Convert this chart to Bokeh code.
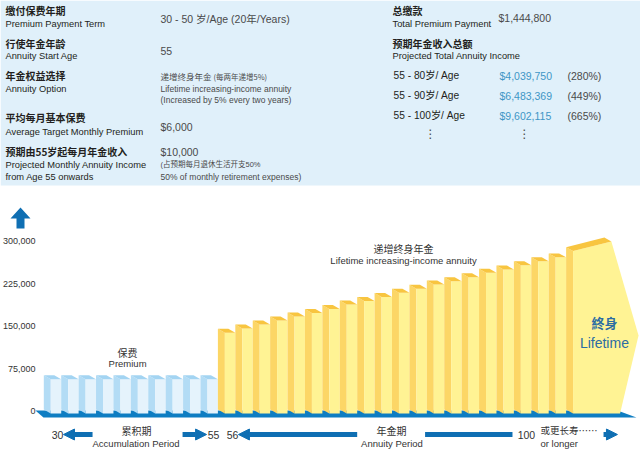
from bokeh.plotting import figure
from bokeh.models import Range1d, FixedTicker, NumeralTickFormatter, Arrow, NormalHead
from bokeh.core.properties import value
from bokeh.embed import file_html
from bokeh.resources import INLINE

# ---------------- data ----------------
premium_values = [57000, 57000, 57000, 57000, 57000, 57000, 57000, 57000, 57000, 57000]
annuity_values = [139000, 146500, 153500, 160500, 167500, 174000, 181000, 189000, 195000, 202000,
                  209500, 216500, 224000, 230000, 237000, 245000, 250500, 258000, 265000, 272000]
lifetime_values = [283000, 300000]
y_ticks = [0, 75000, 150000, 225000, 300000]

info_left_labels = ["缴付保费年期", "Premium Payment Term", "行使年金年龄", "Annuity Start Age",
                    "年金权益选择", "Annuity Option", "平均每月基本保费", "Average Target Monthly Premium",
                    "预期由55岁起每月年金收入", "Projected Monthly Annuity Income", "from Age 55 onwards"]
info_values = ["30 - 50 岁/Age (20年/Years)", "55", "递增终身年金", "(每两年递增5%)",
               "Lifetime increasing-income annuity", "(Increased by 5% every two years)",
               "$6,000", "$10,000", "(占预期每月退休生活开支50%", "50% of monthly retirement expenses)"]
total_labels = ["总缴款", "Total Premium Payment", "预期年金收入总额", "Projected Total Annuity Income"]
total_premium = "$1,444,800"
income_ranges = ["55 - 80岁/ Age", "55 - 90岁/ Age", "55 - 100岁/ Age"]
income_totals = ["$4,039,750", "$6,483,369", "$9,602,115"]
income_pcts = ["(280%)", "(449%)", "(665%)"]

SANS = "Liberation Sans, Noto Sans CJK SC"
CJK = "Noto Sans CJK SC"

PANEL = "#E0F0FA"
DARK = "#231F20"
GREY = "#4A4A4A"
BLUE_TXT = "#3E96C6"
ARROW_C = "#0F6FB3"

W, H = 640, 451

p = figure(width=W, height=H, x_range=Range1d(-2.487, 34.273), y_range=Range1d(-70584, 725250),
           output_backend="svg", toolbar_location=None, x_axis_location=None,
           min_border=0)
p.extra_x_ranges = {"rx": Range1d(0, 640)}
p.extra_y_ranges = {"ry": Range1d(451, 0)}
p.outline_line_color = None
p.grid.visible = False
p.background_fill_color = "white"
p.border_fill_color = "white"

ax = p.yaxis[0]
ax.fixed_location = -0.42
ax.ticker = FixedTicker(ticks=y_ticks)
ax.formatter = NumeralTickFormatter(format="0,0")
ax.axis_line_color = None
ax.major_tick_line_color = None
ax.minor_tick_line_color = None
ax.major_tick_out = 0
ax.major_tick_in = 0
ax.minor_tick_out = 0
ax.minor_tick_in = 0
ax.major_label_standoff = 1
ax.major_label_text_font = "Liberation Sans"
ax.major_label_text_font_size = "9px"
ax.major_label_text_color = "#333333"

PX = dict(x_range_name="rx", y_range_name="ry")


def txt(xs, ys, texts, size, color=DARK, font=SANS, style="normal", align="left", px=True):
    extra = PX if px else {}
    p.text(x=xs, y=ys, text=texts, text_font=value(font), text_font_size=value(f"{size}px"),
           text_color=color, text_font_style=style, text_align=align, text_baseline="middle", **extra)


# ---------------- info panel ----------------
p.quad(left=[0], right=[640], top=[0], bottom=[185], fill_color=PANEL, line_color=None, **PX)

cn_idx = [0, 2, 4, 6, 8]
cn_y = [10, 43, 75, 117, 151]
en_idx = [1, 3, 5, 7, 9, 10]
en_y = [23, 55, 88, 131, 164, 176]
txt([5] * len(cn_idx), cn_y, [info_left_labels[i] for i in cn_idx], 10, font=CJK, style="bold")
txt([5] * len(en_idx), en_y, [info_left_labels[i] for i in en_idx], 9.3)

txt([160, 160, 160, 160], [18, 50, 126, 151],
    [info_values[0], info_values[1], info_values[6], info_values[7]], 10.5, color=GREY)
txt([160], [75], [info_values[2]], 8.5, color=GREY, font=CJK)
txt([213], [76], [info_values[3]], 7.5, color=GREY, font=CJK)
txt([160], [88], [info_values[4]], 8.5, color=GREY)
txt([160], [164], [info_values[8]], 7.5, color=GREY)
txt([160, 160], [99, 176], [info_values[5], info_values[9]], 8.5, color=GREY)

txt([392, 392], [10, 43], [total_labels[0], total_labels[2]], 10, font=CJK, style="bold")
txt([392, 392], [23, 55], [total_labels[1], total_labels[3]], 9.3)
txt([498], [17], [total_premium], 10.5, color=GREY)
row_y = [75, 95, 115]
txt([393] * 3, row_y, income_ranges, 10.2, color=DARK)
txt([499] * 3, row_y, income_totals, 10.5, color=BLUE_TXT)
txt([567] * 3, row_y, income_pcts, 10.5, color=GREY)
txt([430, 524], [133, 133], ["⋮", "⋮"], 12, color=GREY, font="DejaVu Sans", align="center")

# up arrow next to the value axis
p.patch(x=[20, 30, 24, 24, 16, 16, 10], y=[207, 218, 218, 228, 228, 218, 218],
        fill_color=ARROW_C, line_color=None, **PX)

# ---------------- bars ----------------
SIDE = 0.4
DEPTH = 7000
BASE = -3500

p.patch(x=[-0.48, 32.95, 34.04, -0.02], y=[1800, 1800, -10600, -10600],
        fill_color="#0E7DC2", line_color=None)

xs, ys, cols = [], [], []
blue = ("#B3DCF5", "#E5F3FC", "#A3D4F2")
yellow = ("#FCD666", "#FFF394", "#F8C540")


def add_bar(i, v, pal):
    xs.append([i, i + SIDE, i + SIDE, i]); ys.append([BASE + DEPTH, BASE, v, v + DEPTH]); cols.append(pal[0])
    xs.append([i + SIDE, i + 1, i + 1, i + SIDE]); ys.append([BASE, BASE, v, v]); cols.append(pal[1])
    xs.append([i, i + SIDE, i + 1, i + 1 - SIDE]); ys.append([v + DEPTH, v, v, v + DEPTH]); cols.append(pal[2])


for k, v in enumerate(premium_values):
    add_bar(k, v, blue)
n0 = len(premium_values)
for k, v in enumerate(annuity_values):
    add_bar(n0 + k, v, yellow)

b = n0 + len(annuity_values)
L0, L1 = lifetime_values
front_right = b + 2.6
tip_x, tip_y = b + 4.16, 134000
bottom_right = b + 3.1
xs.append([b, b + SIDE, b + SIDE, b]); ys.append([BASE + DEPTH, BASE, L0, L0 + DEPTH]); cols.append(yellow[0])
xs.append([b + SIDE, front_right, tip_x, bottom_right, b + SIDE]); ys.append([L0, L1, tip_y, BASE, BASE]); cols.append(yellow[1])
xs.append([b, b + SIDE, front_right, front_right - SIDE]); ys.append([L0 + DEPTH, L0, L1, L1 + DEPTH]); cols.append(yellow[2])

p.patches(xs=xs, ys=ys, fill_color=cols, line_color=None)

# ---------------- chart annotations ----------------
txt([4.81], [104000], ["保费"], 10, color="#333333", font=CJK, align="center", px=False)
txt([4.81], [84700], ["Premium"], 9.5, color="#333333", align="center", px=False)
txt([20.66], [287600], ["递增终身年金"], 10, color="#333333", font=CJK, align="center", px=False)
txt([20.66], [266500], ["Lifetime increasing-income annuity"], 9.5, color="#333333", align="center", px=False)
txt([32.2], [157000], ["終身"], 13, color="#2B6CA3", font=CJK, style="bold", align="center", px=False)
txt([32.2], [120000], ["Lifetime"], 14, color="#2B6CA3", align="center", px=False)

yr = -40600
txt([0.79, 9.75, 10.84, 27.72], [yr] * 4, ["30", "55", "56", "100"], 10.5, color="#333333", align="center", px=False)
txt([5.32, 19.97], [-33500, -33500], ["累积期", "年金期"], 10, color="#333333", font=CJK, align="center", px=False)
txt([5.3, 20.0], [-56500, -56500], ["Accumulation Period", "Annuity Period"], 9.5, color="#333333", align="center", px=False)
txt([28.53], [-33500], ["或更长寿……"], 9.5, color="#333333", font=CJK, px=False)
txt([28.53], [-56500], ["or longer"], 9.5, color="#333333", px=False)


def head():
    return NormalHead(size=11, fill_color=ARROW_C, line_color=ARROW_C)


p.add_layout(Arrow(x_start=2.8, y_start=yr, x_end=1.13, y_end=yr, line_width=5, line_color=ARROW_C, end=head()))
p.add_layout(Arrow(x_start=7.97, y_start=yr, x_end=9.35, y_end=yr, line_width=5, line_color=ARROW_C, end=head()))
p.add_layout(Arrow(x_start=18.0, y_start=yr, x_end=11.18, y_end=yr, line_width=5, line_color=ARROW_C, end=head()))
p.segment(x0=[21.9], y0=[yr], x1=[26.92], y1=[yr], line_width=5, line_color=ARROW_C)
p.add_layout(Arrow(x_start=32.15, y_start=yr, x_end=32.95, y_end=yr, line_width=5, line_color=ARROW_C, end=head()))

open("out.html", "w").write(file_html(p, INLINE))
